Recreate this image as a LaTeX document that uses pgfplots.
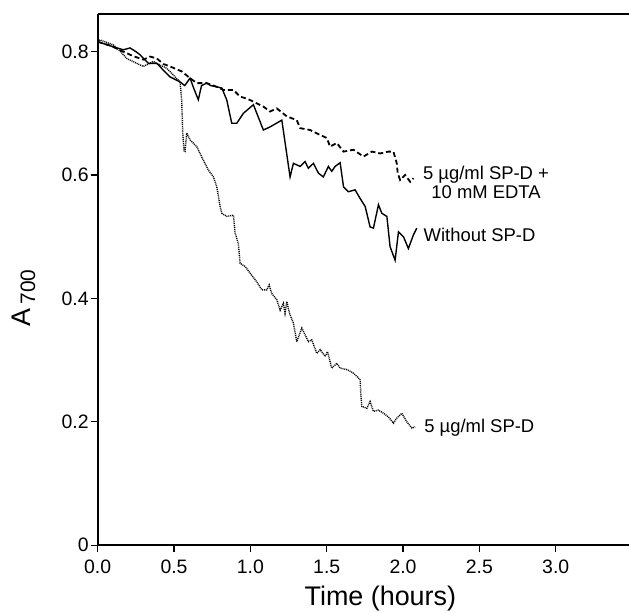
\documentclass[border=0pt]{standalone}
\usepackage{fontspec}
\setmainfont{Liberation Sans}
\usepackage{pgfplots}
\usepackage{pgfplotstable}
\pgfplotsset{compat=1.18}

\pgfplotstableread{
x y
0.000 0.816
0.050 0.812
0.100 0.808
0.168 0.803
0.212 0.806
0.250 0.800
0.277 0.795
0.332 0.781
0.387 0.781
0.430 0.770
0.474 0.759
0.539 0.751
0.570 0.745
0.605 0.757
0.630 0.740
0.659 0.722
0.680 0.745
0.714 0.749
0.740 0.745
0.780 0.743
0.813 0.741
0.845 0.722
0.878 0.684
0.911 0.684
0.954 0.700
1.020 0.714
1.085 0.673
1.129 0.678
1.206 0.689
1.260 0.597
1.282 0.619
1.326 0.614
1.358 0.622
1.380 0.611
1.413 0.619
1.446 0.603
1.478 0.597
1.511 0.614
1.533 0.606
1.555 0.614
1.588 0.620
1.610 0.581
1.642 0.573
1.686 0.576
1.719 0.562
1.752 0.549
1.784 0.516
1.806 0.514
1.839 0.552
1.861 0.538
1.894 0.533
1.915 0.484
1.948 0.462
1.970 0.508
2.003 0.500
2.035 0.481
2.068 0.503
2.090 0.514
}\without

\pgfplotstableread{
x y
0.000 0.816
0.080 0.810
0.168 0.800
0.230 0.793
0.299 0.787
0.343 0.792
0.387 0.789
0.430 0.780
0.474 0.776
0.550 0.768
0.605 0.757
0.649 0.749
0.714 0.749
0.780 0.743
0.823 0.738
0.889 0.738
0.933 0.727
0.976 0.724
1.020 0.719
1.085 0.711
1.129 0.703
1.173 0.708
1.239 0.695
1.304 0.689
1.326 0.676
1.391 0.673
1.457 0.665
1.501 0.660
1.522 0.646
1.566 0.652
1.610 0.638
1.675 0.641
1.741 0.630
1.796 0.638
1.850 0.635
1.904 0.638
1.937 0.638
1.959 0.619
1.965 0.603
1.981 0.592
2.014 0.600
2.047 0.589
2.068 0.595
}\edta

\pgfplotstableread{
x y
0.000 0.816
0.015 0.819
0.102 0.811
0.150 0.800
0.190 0.789
0.256 0.781
0.299 0.776
0.364 0.784
0.452 0.773
0.539 0.751
0.550 0.722
0.557 0.668
0.566 0.638
0.572 0.638
0.583 0.668
0.605 0.657
0.649 0.646
0.692 0.624
0.725 0.608
0.758 0.597
0.780 0.581
0.802 0.549
0.813 0.538
0.845 0.533
0.889 0.535
0.900 0.506
0.921 0.489
0.933 0.457
0.965 0.452
0.998 0.441
1.042 0.427
1.075 0.414
1.107 0.414
1.123 0.422
1.140 0.408
1.173 0.398
1.195 0.381
1.216 0.392
1.227 0.376
1.239 0.395
1.256 0.376
1.282 0.360
1.304 0.330
1.337 0.352
1.380 0.330
1.402 0.333
1.435 0.311
1.457 0.317
1.490 0.306
1.505 0.314
1.533 0.287
1.566 0.295
1.588 0.287
1.630 0.285
1.670 0.280
1.705 0.272
1.719 0.268
1.723 0.246
1.730 0.225
1.763 0.222
1.784 0.233
1.806 0.217
1.839 0.219
1.872 0.214
1.904 0.208
1.937 0.198
1.959 0.206
1.992 0.214
2.025 0.200
2.058 0.190
2.079 0.192
}\spd

\begin{document}
\begin{tikzpicture}
\begin{axis}[
  name=ax,
  at={(0,0)}, anchor=south west,
  scale only axis, width=531.3bp, height=531.3bp,
  xmin=0, xmax=3.48, ymin=0, ymax=0.861,
  axis x line=bottom, axis y line=left,
  axis line style={-, line width=2.2pt},
  xtick={0,0.5,1,1.5,2,2.5,3},
  ytick={0,0.2,0.4,0.6,0.8},
  /pgf/number format/assume math mode=true,
  xticklabel style={/pgf/number format/.cd, fixed, fixed zerofill, precision=1, /tikz/.cd, yshift=-4bp},
  yticklabel style={/pgf/number format/.cd, fixed, precision=1, /tikz/.cd, xshift=1.5bp},
  tick align=outside, major tick length=7bp,
  tick style={line width=1.2pt, black},
  ticklabel style={font=\fontsize{19.5}{19.5}\selectfont},
  xlabel={Time (hours)},
  xlabel style={font=\fontsize{27}{27}\selectfont, xshift=17bp, yshift=-6bp},
  ylabel={A\,\raisebox{-0.3ex}{\fontsize{21}{21}\selectfont 700}},
  ylabel style={font=\fontsize{27}{27}\selectfont, at={(axis description cs:-0.139,0.465)}, anchor=center},
]
\addplot[black, line width=1.4pt] table[x=x,y=y] {\without};
\addplot[black, line width=1.8pt, dash pattern=on 5pt off 3pt] table[x=x,y=y] {\edta};
\addplot[black, line width=1.4pt, dash pattern=on 1pt off 0.9pt] table[x=x,y=y] {\spd};
\node[anchor=west, inner sep=0pt, align=center, font=\fontsize{18.5}{19}\selectfont] at (axis cs:2.130,0.588) {5 µg/ml SP-D +\\10 mM EDTA};
\node[anchor=west, inner sep=0pt, font=\fontsize{18.5}{19}\selectfont] at (axis cs:2.134,0.503) {Without SP-D};
\node[anchor=west, inner sep=0pt, font=\fontsize{18.5}{19}\selectfont] at (axis cs:2.138,0.190) {5 µg/ml SP-D};
\end{axis}
\draw[line width=2.2pt] (ax.north west) -- (ax.north east);
\pgfresetboundingbox
\path[use as bounding box] (-97.7bp,-67.7bp) rectangle (531.3bp,545.3bp);
\end{tikzpicture}
\end{document}
